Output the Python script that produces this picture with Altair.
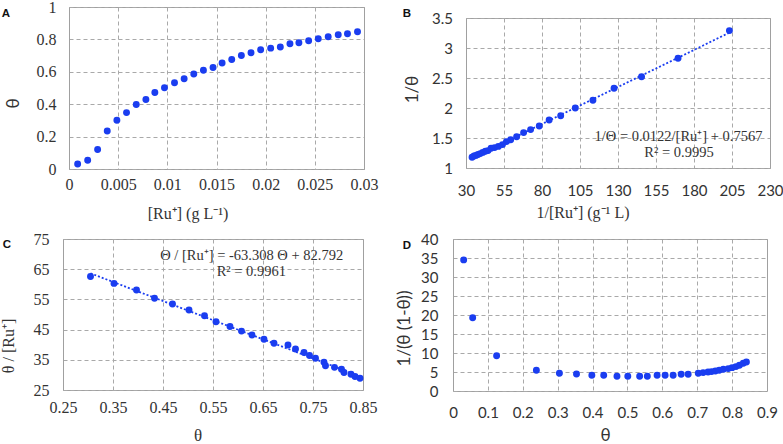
import altair as alt
import pandas as pd

# ---------------- data ----------------
# Panel A: theta vs [Ru+]
a_ru = [0.00088, 0.00190, 0.00291, 0.00389, 0.00487, 0.00585, 0.00684, 0.00782,
        0.00873, 0.00971, 0.01073, 0.01171, 0.01269, 0.01367, 0.01465, 0.01557,
        0.01655, 0.01753, 0.01851, 0.01949, 0.02051, 0.02149, 0.02247, 0.02338,
        0.02437, 0.02535, 0.02636, 0.02738, 0.02832, 0.02934]
a_theta = [0.031, 0.054, 0.120, 0.235, 0.301, 0.348, 0.398, 0.429, 0.472, 0.501,
           0.532, 0.557, 0.586, 0.610, 0.627, 0.654, 0.676, 0.701, 0.718, 0.736,
           0.746, 0.753, 0.773, 0.779, 0.792, 0.804, 0.816, 0.829, 0.835, 0.847]

# Panel B: 1/theta vs 1/[Ru+]
b_inv_ru = [203.3, 169.5, 145.5, 127.4, 113.5, 101.9, 92.3, 84.7, 78.2, 72.5, 67.9,
            63.3, 59.4, 56.6, 54.0, 51.3, 48.8, 46.5, 44.5, 42.8, 41.0, 39.4, 37.9,
            36.5, 35.3, 34.0]
b_inv_theta = [3.29, 2.83, 2.52, 2.33, 2.13, 2.00, 1.87, 1.80, 1.70, 1.64, 1.59,
               1.52, 1.47, 1.44, 1.39, 1.36, 1.34, 1.33, 1.29, 1.28, 1.26, 1.24,
               1.225, 1.21, 1.20, 1.18]

# Panel C: theta/[Ru+] vs theta
c_theta = [0.305, 0.352, 0.397, 0.433, 0.469, 0.502, 0.533, 0.556, 0.584, 0.607,
           0.628, 0.652, 0.672, 0.700, 0.715, 0.732, 0.743, 0.755, 0.772, 0.775,
           0.793, 0.807, 0.812, 0.826, 0.834, 0.844]
c_ratio = [62.6, 60.3, 58.1, 55.4, 53.5, 51.5, 49.6, 47.6, 46.0, 44.5, 43.2, 41.8,
           40.5, 39.9, 38.6, 37.4, 36.4, 35.5, 34.2, 33.0, 32.5, 31.9, 30.8, 30.2,
           29.5, 28.9]

# Panel D: 1/(theta(1-theta)) vs theta
d_theta = [0.0306, 0.0564, 0.125, 0.239, 0.305, 0.354, 0.398, 0.432, 0.470, 0.501,
           0.535, 0.557, 0.585, 0.608, 0.631, 0.654, 0.674, 0.703, 0.717, 0.731,
           0.741, 0.752, 0.763, 0.775, 0.789, 0.800, 0.811, 0.821, 0.832, 0.841]
d_val = [34.5, 19.3, 9.3, 5.45, 4.66, 4.48, 4.13, 4.13, 3.87, 3.87, 3.87, 3.87,
         4.13, 4.13, 4.13, 4.40, 4.40, 4.66, 4.84, 5.0, 5.1, 5.27, 5.45, 5.71,
         5.89, 6.15, 6.42, 6.77, 7.30, 7.65]

# axis ticks
a_xticks = [0, 0.005, 0.01, 0.015, 0.02, 0.025, 0.03]
a_yticks = [0, 0.2, 0.4, 0.6, 0.8, 1]
b_xticks = [30, 55, 80, 105, 130, 155, 180, 205, 230]
b_yticks = [1, 1.5, 2, 2.5, 3, 3.5]
c_xticks = [0.25, 0.35, 0.45, 0.55, 0.65, 0.75, 0.85]
c_yticks = [25, 35, 45, 55, 65, 75]
d_xticks = [0, 0.1, 0.2, 0.3, 0.4, 0.5, 0.6, 0.7, 0.8, 0.9]
d_yticks = [0, 5, 10, 15, 20, 25, 30, 35, 40]

panel_labels = ["A", "B", "C", "D"]
eq_b = ["1/Θ  = 0.0122/[Ru⁺] + 0.7567", "R² = 0.9995"]
eq_c = ["Θ / [Ru⁺] = -63.308 Θ  + 82.792", "R² = 0.9961"]

# ---------------- styling / layout ----------------
W, H = 783, 444
BLUE = "#1a3df0"
SERIF = "Liberation Serif"
SANS = "Lato"
GRID = "#a9a9a9"
FRAME = "#a0a0a0"
TXT = "#333333"


def xaxis(vals, fmt, lfont, lsize, pad, title, tfont, tsize, bottom, tx, ty):
    return alt.Axis(orient="bottom", offset=bottom - H, values=vals, format=fmt,
                    grid=False, ticks=False, tickSize=0, domain=True,
                    domainColor=FRAME, domainWidth=1,
                    labelFont=lfont, labelFontSize=lsize, labelColor=TXT,
                    labelPadding=pad, labelBaseline="middle", labelFlush=False,
                    labelOverlap=False, title=title, titleFont=tfont,
                    titleFontSize=tsize, titleFontWeight="normal", titleColor=TXT,
                    titleX=tx, titleY=ty - bottom, titleAlign="center",
                    titleBaseline="middle")


def yaxis(vals, fmt, lfont, lsize, pad, title, tfont, tsize, left, tx, ty):
    return alt.Axis(orient="left", offset=-left, values=vals, format=fmt,
                    grid=False, ticks=False, tickSize=0, domain=True,
                    domainColor=FRAME, domainWidth=1,
                    labelFont=lfont, labelFontSize=lsize, labelColor=TXT,
                    labelPadding=pad, labelFlush=False, labelOverlap=False,
                    title=title, titleFont=tfont, titleFontSize=tsize,
                    titleFontWeight="normal", titleColor=TXT,
                    titleX=tx - left, titleY=ty, titleAlign="center",
                    titleBaseline="middle", titleAngle=270)


def panel_layers(xs, ys, xdom, ydom, box, xticks, yticks, xax, yax, trend=False):
    """Returns (background layers, foreground layers) for one panel."""
    left, top, right, bottom = box
    xs_ = alt.Scale(domain=xdom, range=[left, right], nice=False, zero=False)
    ys_ = alt.Scale(domain=ydom, range=[bottom, top], nice=False, zero=False)
    df = pd.DataFrame({"x": xs, "y": ys})

    # dashed grid drawn as long axis ticks: vertical lines hang down from an axis
    # placed on the top edge, horizontal lines run right from an axis on the left edge
    grid_x = alt.Axis(orient="bottom", offset=top - H, values=xticks, labels=False,
                      ticks=True, tickSize=bottom - top, tickDash=[4, 3],
                      tickColor=GRID, tickWidth=1, domain=True, domainColor=FRAME,
                      domainWidth=1, grid=False, title=None)
    grid_y = alt.Axis(orient="right", offset=left - W, values=yticks, labels=False,
                      ticks=True, tickSize=right - left, tickDash=[4, 3],
                      tickColor=GRID, tickWidth=1, domain=False, grid=False,
                      title=None)
    edge_r = alt.Axis(orient="right", offset=right - W, labels=False, ticks=False,
                      domain=True, domainColor=FRAME, domainWidth=1, grid=False,
                      title=None)

    g = (alt.Chart(df).mark_circle(opacity=0)
         .encode(x=alt.X("x:Q", scale=xs_, axis=grid_x),
                 y=alt.Y("y:Q", scale=ys_, axis=grid_y)))
    e = (alt.Chart(df).mark_circle(opacity=0)
         .encode(x=alt.X("x:Q", scale=xs_, axis=None),
                 y=alt.Y("y:Q", scale=ys_, axis=edge_r)))
    back = [g, e]
    fore = []
    if trend:
        fore.append(alt.Chart(df).transform_regression("x", "y")
                    .mark_line(color=BLUE, strokeDash=[2, 2], strokeWidth=1.8)
                    .encode(x=alt.X("x:Q", scale=xs_, axis=None),
                            y=alt.Y("y:Q", scale=ys_, axis=None)))
    fore.append(alt.Chart(df).mark_circle(size=48, color=BLUE, opacity=1)
                .encode(x=alt.X("x:Q", scale=xs_, axis=xax),
                        y=alt.Y("y:Q", scale=ys_, axis=yax)))
    return back, fore


def text_layer(txt, x, y, font, size, weight="normal", align="center",
               baseline="middle", color=TXT):
    return (alt.Chart(pd.DataFrame({"t": [txt]}))
            .mark_text(align=align, baseline=baseline, font=font, fontSize=size,
                       fontWeight=weight, color=color)
            .encode(x=alt.value(x), y=alt.value(y), text="t:N"))


# plot boxes: left, top, right, bottom (pixels)
boxA = (69, 7, 364, 169)
boxB = (466, 18, 770, 168)
boxC = (63, 239, 363, 390)
boxD = (453, 239, 767, 391)

bA, fA = panel_layers(a_ru, a_theta, [0, 0.03], [0, 1], boxA, a_xticks, a_yticks,
                      xaxis(a_xticks, ".3~f", SERIF, 16, 15.5, "[Ru⁺] (g L⁻¹)", SERIF, 16,
                            boxA[3], 187.5, 213),
                      yaxis(a_yticks, ".1~f", SERIF, 16, 13, "θ", SANS, 17, boxA[0], 13, 103))

bB, fB = panel_layers(b_inv_ru, b_inv_theta, [30, 230], [1, 3.5], boxB, b_xticks, b_yticks,
                      xaxis(b_xticks, "d", SANS, 15, 22, "1/[Ru⁺]  (g⁻¹ L)", SERIF, 16,
                            boxB[3], 582.5, 212),
                      yaxis(b_yticks, ".1~f", SANS, 15, 13.5, "1/θ", SANS, 17, boxB[0], 412.5, 89),
                      trend=True)

bC, fC = panel_layers(c_theta, c_ratio, [0.25, 0.85], [25, 75], boxC, c_xticks, c_yticks,
                      xaxis(c_xticks, ".2f", SERIF, 16, 17, "θ", SERIF, 17, boxC[3], 197.7, 435),
                      yaxis(c_yticks, "d", SERIF, 16, 14, "θ / [Ru⁺]", SERIF, 16, boxC[0], 8.5, 345.5),
                      trend=True)

bD, fD = panel_layers(d_theta, d_val, [0, 0.9], [0, 40], boxD, d_xticks, d_yticks,
                      xaxis(d_xticks, ".1~f", SANS, 15, 21, "θ", SANS, 17, boxD[3], 605, 435),
                      yaxis(d_yticks, "d", SANS, 15, 15, "1/(θ (1-θ))", SANS, 17, boxD[0], 404, 328))

texts = [
    text_layer(panel_labels[0], 1.7, 17.3, "Liberation Sans", 11.5, "bold", "left", "alphabetic", "#111111"),
    text_layer(panel_labels[1], 402.7, 16.7, "Liberation Sans", 11.5, "bold", "left", "alphabetic", "#111111"),
    text_layer(panel_labels[2], 2.7, 247.8, "Liberation Sans", 11.5, "bold", "left", "alphabetic", "#111111"),
    text_layer(panel_labels[3], 402.7, 248.7, "Liberation Sans", 11.5, "bold", "left", "alphabetic", "#111111"),
    text_layer(eq_b[0], 678.5, 136.7, SERIF, 14.5),
    text_layer(eq_b[1], 679, 152.7, SERIF, 14.5),
    text_layer(eq_c[0], 251.7, 255.7, SERIF, 14.5),
    text_layer(eq_c[1], 251.3, 271.7, SERIF, 14.5),
]

chart = (alt.layer(*(bA + bB + bC + bD + fA + fB + fC + fD + texts))
         .resolve_scale(x="independent", y="independent")
         .resolve_axis(x="independent", y="independent")
         .properties(width=W, height=H, padding=0, background="white",
                     autosize=alt.AutoSizeParams(type="none"))
         .configure_view(stroke="transparent"))

chart.save("out.html", embed_options={"renderer": "svg", "actions": False})
